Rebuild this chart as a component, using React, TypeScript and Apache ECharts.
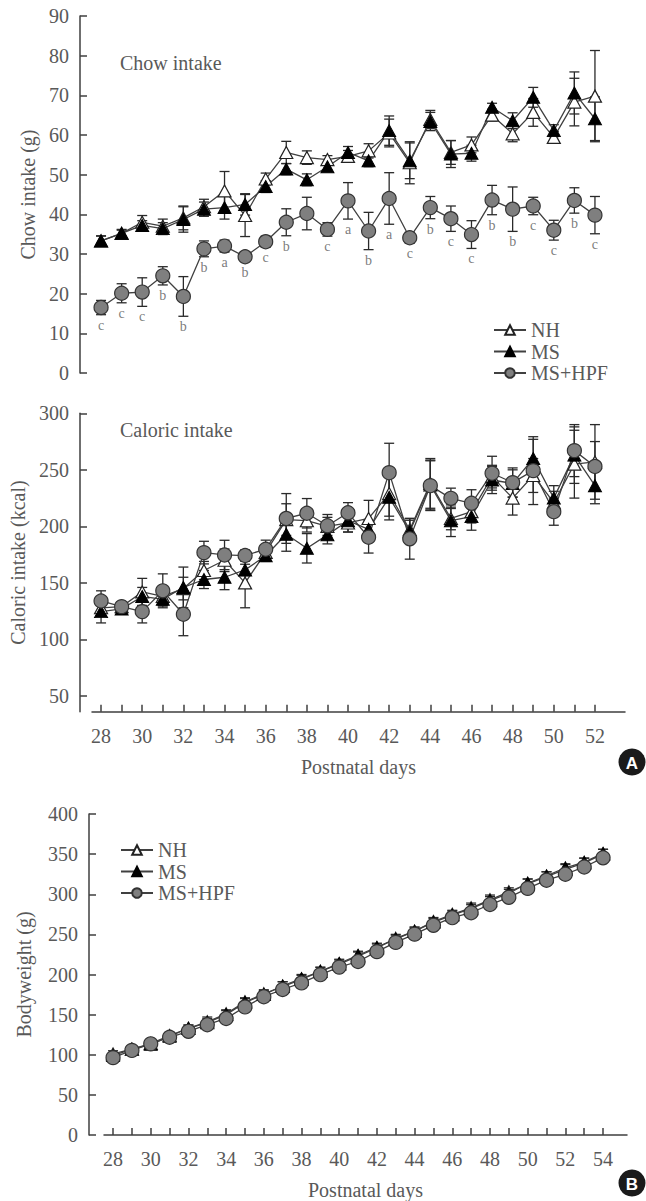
import React, { useEffect, useRef } from "react";
import * as echarts from "echarts";

// ---------- Data ----------
const days = [28, 29, 30, 31, 32, 33, 34, 35, 36, 37, 38, 39, 40, 41, 42, 43, 44, 45, 46, 47, 48, 49, 50, 51, 52];
const dayLabels = [28, 30, 32, 34, 36, 38, 40, 42, 44, 46, 48, 50, 52];

const chowNH = [33.3, 35.2, 38.0, 37.0, 39.1, 41.9, 45.9, 39.7, 48.9, 55.6, 54.3, 53.8, 54.6, 56.0, 60.5, 53.0, 63.9, 55.6, 57.5, 65.0, 60.3, 65.7, 59.4, 68.3, 69.8];
const chowNHErr = [1.2, 1.0, 1.7, 1.8, 3.0, 1.9, 4.9, 5.3, 1.5, 2.8, 1.7, 1.0, 1.5, 1.8, 3.5, 5.3, 2.3, 3.0, 2.0, 1.5, 2.0, 3.5, 1.5, 6.0, 11.5];
const chowMS = [33.3, 35.2, 37.2, 36.4, 38.7, 41.3, 41.7, 42.5, 47.0, 51.4, 48.7, 52.0, 55.6, 53.5, 61.1, 53.5, 63.4, 55.2, 55.4, 67.0, 63.6, 69.5, 61.1, 70.6, 64.1];
const chowMSErr = [1.3, 0.8, 1.2, 1.5, 3.2, 1.8, 2.9, 2.7, 1.5, 1.4, 1.5, 1.0, 1.5, 1.5, 3.7, 4.5, 2.3, 3.4, 2.0, 1.0, 2.0, 2.5, 1.5, 5.3, 5.5];
const chowHPF = [16.5, 20.1, 20.4, 24.5, 19.3, 31.3, 32.0, 29.3, 33.1, 38.0, 40.2, 36.2, 43.4, 35.8, 44.0, 34.1, 41.7, 38.9, 34.9, 43.6, 41.3, 42.1, 36.0, 43.5, 39.8];
const chowHPFErr = [1.8, 2.4, 3.6, 2.3, 5.0, 2.0, 1.5, 1.2, 1.4, 3.4, 4.1, 1.7, 4.6, 4.7, 6.5, 1.4, 2.8, 3.2, 3.5, 3.7, 5.6, 2.2, 2.5, 3.2, 4.7];
const chowLetters = ["c", "c", "c", "b", "b", "b", "a", "b", "c", "b", "", "c", "a", "b", "a", "c", "b", "c", "c", "b", "b", "c", "c", "b", "c"];

const calNH = [128, 129, 142, 138, 145, 161, 170, 150, 177, 206, 205, 200, 203, 207, 229, 197, 238, 207, 213, 244, 225, 245, 221, 255, 257];
const calNHErr = [6, 4, 12, 8, 10, 8, 10, 22, 6, 14, 10, 8, 8, 16, 20, 10, 22, 10, 10, 10, 15, 15, 10, 30, 33];
const calMS = [124.6, 127, 138, 135.5, 146, 153, 155, 161.5, 174, 193, 180.6, 192.5, 205, 197.4, 225.7, 195.4, 236.6, 205, 208.6, 241, 238, 260, 225, 263, 236];
const calMSErr = [10, 3, 8, 6, 18, 8, 11, 5, 5, 15, 13, 8, 10, 8, 20, 10, 22, 14, 12, 12, 12, 17, 11, 25, 16];
const calHPF = [134, 129, 124.6, 143, 122.3, 176.8, 174.7, 174.2, 179.8, 207, 211.6, 200.5, 212, 190.4, 247.5, 189, 236, 224.8, 220.4, 247, 238.7, 249.3, 213, 267, 253];
const calHPFErr = [9, 4, 10, 15, 19, 10, 13, 5, 8, 22, 13, 10, 9, 14, 26, 18, 22, 9, 12, 15, 13, 30, 12, 23, 22];

const bwDays = [28, 29, 30, 31, 32, 33, 34, 35, 36, 37, 38, 39, 40, 41, 42, 43, 44, 45, 46, 47, 48, 49, 50, 51, 52, 53, 54];
const bwDayLabels = [28, 30, 32, 34, 36, 38, 40, 42, 44, 46, 48, 50, 52, 54];
const bwNH = [101, 107, 114, 124, 133, 141, 151, 166, 176, 185, 194, 204, 213, 223, 233, 245, 254, 266, 275, 283, 293, 303, 313, 322, 331, 339, 350];
const bwNHErr = [4, 3, 3, 4, 4, 6, 5, 5, 5, 6, 5, 5, 5, 5, 5, 5, 5, 5, 5, 6, 6, 5, 6, 6, 6, 6, 6];
const bwMS = [99, 107, 113, 123, 133, 140, 150, 165, 175, 186, 195, 204, 214, 224, 234, 244, 254, 265, 274, 282, 292, 301, 314, 323, 333, 340, 351];
const bwMSErr = [3, 3, 4, 4, 4, 5, 5, 5, 5, 5, 5, 5, 5, 5, 5, 5, 5, 5, 5, 5, 5, 5, 5, 5, 5, 5, 5];
const bwHPF = [96.4, 105.4, 113.6, 121.8, 129.2, 137.4, 145.2, 159.6, 172.3, 181.3, 189.5, 199.8, 209.2, 216.2, 228.5, 240, 250.3, 261.3, 270.8, 277, 287.2, 296.2, 307.3, 317.5, 324.9, 334, 345.4];
const bwHPFErr = [4, 3, 3, 4, 4, 4, 4, 5, 6, 6, 6, 5, 5, 5, 5, 5, 5, 5, 5, 5, 6, 5, 5, 5, 5, 5, 5];

const groupNames = ["NH", "MS", "MS+HPF"];

// ---------- Styles ----------
const FONT = '"Liberation Serif", "Times New Roman", serif';
const TEXT = "#595959";
const AXIS = "#3f3f3f";
const LINE = "#404040";

const markerStyles: Record<string, any> = {
  NH: { symbol: "triangle", symbolSize: [13, 12], itemStyle: { color: "#ffffff", borderColor: "#222", borderWidth: 1.2 } },
  MS: { symbol: "triangle", symbolSize: [13, 12], itemStyle: { color: "#000000", borderColor: "#000", borderWidth: 1 } },
  "MS+HPF": { symbol: "circle", symbolSize: 14, itemStyle: { color: "#7f7f7f", borderColor: "#333", borderWidth: 1.2 } },
};

function lineSeries(name: string, xs: number[], ys: number[], gi: number) {
  const m = markerStyles[name];
  return {
    type: "line",
    name,
    xAxisIndex: gi,
    yAxisIndex: gi,
    data: xs.map((x, i) => [x, ys[i]]),
    symbol: m.symbol,
    symbolSize: m.symbolSize,
    showSymbol: true,
    itemStyle: m.itemStyle,
    lineStyle: { color: LINE, width: 1.3 },
    emphasis: { disabled: true },
    silent: true,
  };
}

function errorSeries(name: string, xs: number[], ys: number[], es: number[], gi: number) {
  return {
    type: "custom",
    name: name + " err",
    xAxisIndex: gi,
    yAxisIndex: gi,
    silent: true,
    data: xs.map((x, i) => [x, ys[i] - es[i], ys[i] + es[i]]),
    encode: { x: 0, y: [1, 2] },
    renderItem: (params: any, api: any) => {
      const x = api.value(0);
      const lo = api.coord([x, api.value(1)]);
      const hi = api.coord([x, api.value(2)]);
      const w = 5;
      const style = { stroke: "#2a2a2a", lineWidth: 1.3, fill: "none" };
      return {
        type: "group",
        children: [
          { type: "line", shape: { x1: lo[0], y1: lo[1], x2: hi[0], y2: hi[1] }, style },
          { type: "line", shape: { x1: lo[0] - w, y1: lo[1], x2: lo[0] + w, y2: lo[1] }, style },
          { type: "line", shape: { x1: hi[0] - w, y1: hi[1], x2: hi[0] + w, y2: hi[1] }, style },
        ],
      };
    },
  };
}

function letterSeries() {
  const data = days
    .map((d, i) => ({ value: [d, chowHPF[i] - chowHPFErr[i]], letter: chowLetters[i] }))
    .filter((l) => l.letter !== "");
  return {
    type: "scatter",
    name: "letters",
    xAxisIndex: 0,
    yAxisIndex: 0,
    silent: true,
    z: 10,
    symbolSize: 1,
    itemStyle: { color: "rgba(255,255,255,0)" },
    labelLayout: { hideOverlap: false },
    data: data.map((l) => ({
      value: l.value,
      label: {
        show: true,
        position: "bottom",
        distance: 3,
        formatter: l.letter,
        color: TEXT,
        fontSize: 14,
        fontFamily: FONT,
      },
    })),
  };
}

const labelStyle = { color: TEXT, fontSize: 20, fontFamily: FONT };

function yAxisCfg(gi: number, min: number, max: number, name: string, nameGap: number, offset: number, custom?: number[], interval?: number) {
  const cfg: any = {
    gridIndex: gi,
    type: "value",
    min,
    max,
    offset,
    name,
    nameLocation: "middle",
    nameRotate: 90,
    nameGap,
    nameTextStyle: { color: TEXT, fontSize: 20, fontFamily: FONT },
    axisLine: { show: true, onZero: false, lineStyle: { color: AXIS, width: 1.5 } },
    axisTick: { show: true, inside: true, length: 7, lineStyle: { color: AXIS, width: 1.5 } },
    axisLabel: { ...labelStyle, margin: 11 },
    splitLine: { show: false },
  };
  if (interval) cfg.interval = interval;
  if (custom) {
    cfg.axisTick.customValues = custom;
    cfg.axisLabel.customValues = custom;
  }
  return cfg;
}

function xAxisCfg(gi: number, min: number, max: number, ticks: number[], labels: number[], show: boolean) {
  return {
    gridIndex: gi,
    type: "value",
    min,
    max,
    show,
    name: "Postnatal days",
    nameLocation: "middle",
    nameGap: 45,
    nameTextStyle: { color: TEXT, fontSize: 20, fontFamily: FONT },
    axisLine: { show: true, onZero: false, lineStyle: { color: AXIS, width: 1.5 } },
    axisTick: { show: true, inside: true, length: 7, customValues: ticks, lineStyle: { color: AXIS, width: 1.5 } },
    axisLabel: { ...labelStyle, margin: 14, customValues: labels },
    splitLine: { show: false },
  };
}

function legendCfg(left: number, top: number) {
  return {
    data: groupNames,
    orient: "vertical",
    left,
    top,
    itemWidth: 32,
    itemHeight: 12,
    itemGap: 1.5,
    selectedMode: false,
    textStyle: { color: TEXT, fontSize: 20, fontFamily: FONT, lineHeight: 20 },
  };
}

function badge(letter: string, cx: number, cy: number) {
  return {
    type: "group",
    children: [
      { type: "circle", shape: { cx, cy, r: 13.5 }, style: { fill: "#1a1a1a" } },
      {
        type: "text",
        x: cx,
        y: cy + 1,
        style: { text: letter, fill: "#fff", fontSize: 17, fontWeight: "bold", fontFamily: '"Liberation Sans", Arial, sans-serif', align: "center", verticalAlign: "middle" },
      },
    ],
  };
}

export default function App() {
  const ref = useRef<HTMLDivElement>(null);
  useEffect(() => {
    document.body.style.margin = "0";
    if (!ref.current) return;
    const chart = echarts.init(ref.current, undefined, { renderer: "svg" });
    const option: any = {
      animation: false,
      backgroundColor: "#ffffff",
      textStyle: { fontFamily: FONT },
      grid: [
        { left: 92, right: 21, top: 16, height: 357 },
        { left: 92, right: 21, top: 413.3, height: 298.5 },
        { left: 104, right: 19, top: 814, height: 325 },
      ],
      xAxis: [
        xAxisCfg(0, 27.56, 53.46, days, dayLabels, false),
        xAxisCfg(1, 27.56, 53.46, days, dayLabels, true),
        xAxisCfg(2, 27.52, 55.27, bwDays, bwDayLabels, true),
      ],
      yAxis: [
        yAxisCfg(0, 0, 90, "Chow intake (g)", 40, 12, undefined, 10),
        yAxisCfg(1, 36, 300, "Caloric intake (kcal)", 50, 12, [50, 100, 150, 200, 250, 300]),
        yAxisCfg(2, 0, 400, "Bodyweight (g)", 55, 15, undefined, 50),
      ],
      legend: [legendCfg(488, 315), legendCfg(115, 835)],
      graphic: [
        { type: "text", x: 120, y: 63, style: { text: "Chow intake", fill: TEXT, fontSize: 20, fontFamily: FONT, verticalAlign: "middle" } },
        { type: "text", x: 120, y: 430, style: { text: "Caloric intake", fill: TEXT, fontSize: 20, fontFamily: FONT, verticalAlign: "middle" } },
        badge("A", 632, 762),
        badge("B", 632, 1183),
      ],
      series: [
        errorSeries("NH", days, chowNH, chowNHErr, 0),
        errorSeries("MS", days, chowMS, chowMSErr, 0),
        errorSeries("MS+HPF", days, chowHPF, chowHPFErr, 0),
        lineSeries("NH", days, chowNH, 0),
        lineSeries("MS", days, chowMS, 0),
        lineSeries("MS+HPF", days, chowHPF, 0),
        letterSeries(),

        errorSeries("NH", days, calNH, calNHErr, 1),
        errorSeries("MS", days, calMS, calMSErr, 1),
        errorSeries("MS+HPF", days, calHPF, calHPFErr, 1),
        lineSeries("NH", days, calNH, 1),
        lineSeries("MS", days, calMS, 1),
        lineSeries("MS+HPF", days, calHPF, 1),

        errorSeries("NH", bwDays, bwNH, bwNHErr, 2),
        errorSeries("MS", bwDays, bwMS, bwMSErr, 2),
        errorSeries("MS+HPF", bwDays, bwHPF, bwHPFErr, 2),
        lineSeries("NH", bwDays, bwNH, 2),
        lineSeries("MS", bwDays, bwMS, 2),
        lineSeries("MS+HPF", bwDays, bwHPF, 2),
      ],
    };
    chart.setOption(option);
    return () => chart.dispose();
  }, []);
  return <div ref={ref} style={{ width: 646, height: 1201 }} />;
}
